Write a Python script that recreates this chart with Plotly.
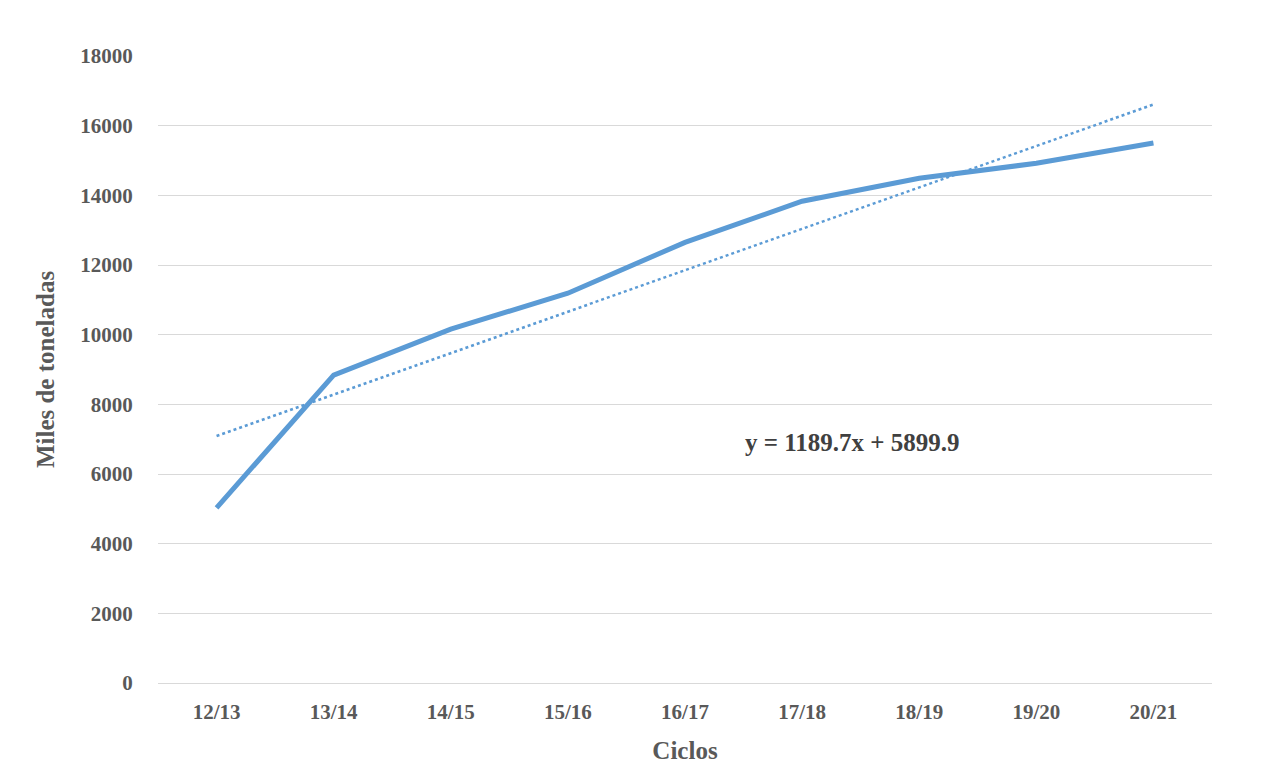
import plotly.graph_objects as go

ciclos = ["12/13", "13/14", "14/15", "15/16", "16/17", "17/18", "18/19", "19/20", "20/21"]
valores = [5030, 8840, 10160, 11190, 12650, 13830, 14490, 14920, 15500]
pendiente = 1189.7
intercepto = 5899.9

tendencia = [pendiente * (i + 1) + intercepto for i in range(len(ciclos))]

font = dict(family="Liberation Serif", color="#595959")
fig = go.Figure()
fig.add_trace(go.Scatter(x=ciclos, y=tendencia, mode="lines",
                         line=dict(color="#5B9BD5", width=2.5, dash="dot"), hoverinfo="skip"))
fig.add_trace(go.Scatter(x=ciclos, y=valores, mode="lines",
                         line=dict(color="#5B9BD5", width=5)))
fig.update_layout(
    width=1265, height=764, showlegend=False,
    plot_bgcolor="white", paper_bgcolor="white",
    margin=dict(l=150, r=61, t=48, b=89, pad=0),
    font=font,
    xaxis=dict(range=[-0.5, 8.5], showgrid=False, showline=True, linecolor="#D9D9D9",
               automargin=False, ticks="outside", ticklen=10, tickcolor="rgba(0,0,0,0)",
               tickfont=dict(size=21, family="Liberation Serif", color="#595959"),
               title=dict(text="<b>Ciclos</b>", font=dict(size=25), standoff=18),
               tickprefix="<b>", ticksuffix="</b>"),
    yaxis=dict(range=[0, 18000], dtick=2000, tickformat="d", showgrid=True, gridcolor="#D9D9D9",
               automargin=False, zeroline=False,
               tickfont=dict(size=21, family="Liberation Serif", color="#595959"),
               tickprefix="<b>", ticksuffix="</b>", ticks="outside", ticklen=20,
               tickcolor="rgba(0,0,0,0)",
               title=dict(text="<b>Miles de toneladas</b>", font=dict(size=25), standoff=18)),
)
fig.add_annotation(x=5.43, y=6900, xref="x", yref="y", text="<b>y = 1189.7x + 5899.9</b>",
                   showarrow=False, font=dict(size=25, family="Liberation Serif", color="#404040"))
fig.write_html("out.html")
